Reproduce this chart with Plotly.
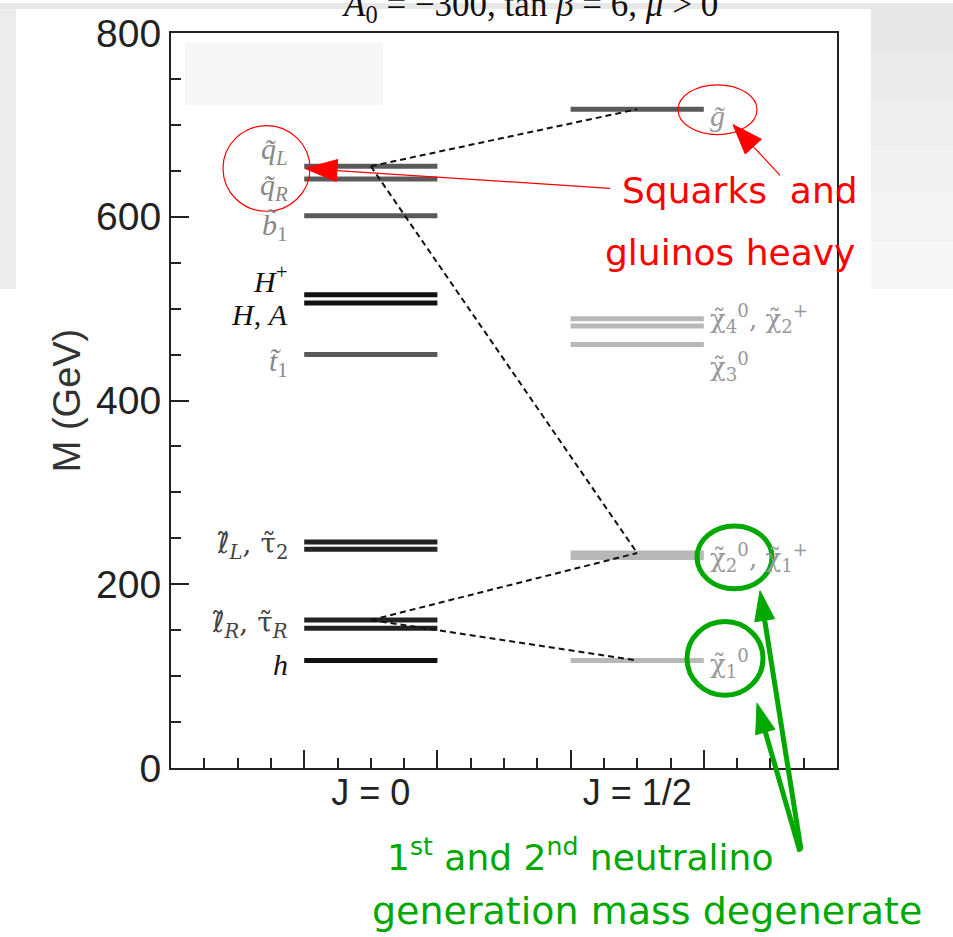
import plotly.graph_objects as go

# ---------------- data (masses in GeV) ----------------
j0_particles = ["qL", "qR", "b1", "Hp", "HA", "t1", "lL", "tau2", "lR", "tauR", "h"]
j0_mass = [655, 641, 601, 515, 506, 450, 246, 238, 161, 152, 117]
j0_group = ["sq", "sq", "sq", "higgs", "higgs", "sq", "slep", "slep", "slep", "slep", "higgs"]

j12_particles = ["gl", "N4", "C2", "N3", "N2", "C1", "N1"]
j12_mass = [717, 489, 481, 461, 234, 229, 117]
j12_group = ["gluino", "ino", "ino", "ino", "ino", "ino", "ino"]

# decay chain (dashed): pairs of particles joined
chain_from = ["qL", "qL", "lR", "lR"]
chain_to = ["gl", "N2", "N2", "N1"]

column_labels = ["J = 0", "J = 1/2"]

# ---------------- styles / layout helpers ----------------
COL = {"J0": (1.0, 2.0), "J12": (3.0, 4.0)}
STY = {
    "sq": dict(color="#5a5a5a", width=5),
    "higgs": dict(color="#111111", width=5),
    "slep": dict(color="#222222", width=5),
    "gluino": dict(color="#5a5a5a", width=5),
    "ino": dict(color="#b8b8b8", width=5),
}
L, R, T, B = 171, 116, 30, 169
W, H = 953, 937
PW, PH = W - L - R, H - T - B


def PX(x):
    return (x - L) / PW


def PY(y):
    return (H - B - y) / PH


mass = dict(zip(j0_particles + j12_particles, j0_mass + j12_mass))
side = {p: "J0" for p in j0_particles}
side.update({p: "J12" for p in j12_particles})

fig = go.Figure()

# levels
for parts, masses, groups, col in [(j0_particles, j0_mass, j0_group, "J0"),
                                    (j12_particles, j12_mass, j12_group, "J12")]:
    for p, m, g in zip(parts, masses, groups):
        x0, x1 = COL[col]
        fig.add_trace(go.Scatter(x=[x0, x1], y=[m, m], mode="lines",
                                 line=STY[g], hoverinfo="skip", showlegend=False))

# dashed decay chain
for a, b in zip(chain_from, chain_to):
    xa = sum(COL[side[a]]) / 2
    xb = sum(COL[side[b]]) / 2
    fig.add_trace(go.Scatter(x=[xa, xb], y=[mass[a], mass[b]], mode="lines",
                             line=dict(color="#111111", width=2, dash="6px,4px"),
                             hoverinfo="skip", showlegend=False))

# dummy trace for the label axis
fig.add_trace(go.Scatter(x=[1.5, 3.5], y=[0, 0], xaxis="x2", mode="markers",
                         marker=dict(opacity=0), hoverinfo="skip", showlegend=False))

# particle labels
SERIF = "Liberation Serif"
SERIF2 = "DejaVu Serif"
t = "\u0303"
chi = "χ" + t
ell = "<span style='font-family:DejaVu Sans'>ℓ" + t + "</span>"
left_labels = [
    ("<i>q" + t + "</i><sub><i>L</i></sub>", ["qL"], 15, "#888888", SERIF, 30),
    ("<i>q" + t + "</i><sub><i>R</i></sub>", ["qR"], -8, "#888888", SERIF, 30),
    ("<i>b" + t + "</i><sub>1</sub>", ["b1"], -11, "#888888", SERIF, 30),
    ("<i>H</i><sup>+</sup>", ["Hp"], 16, "#111111", SERIF, 30),
    ("<i>H</i>, <i>A</i>", ["HA"], -11, "#111111", SERIF, 30),
    ("<i>t" + t + "</i><sub>1</sub>", ["t1"], -8, "#888888", SERIF, 30),
    (ell + "<sub><i>L</i></sub>, τ" + t + "<sub>2</sub>", ["lL", "tau2"], 0, "#444444", SERIF2, 28),
    (ell + "<sub><i>R</i></sub>, τ" + t + "<sub><i>R</i></sub>", ["lR", "tauR"], 0, "#444444", SERIF2, 28),
    ("<i>h</i>", ["h"], -4, "#111111", SERIF, 30),
]
right_labels = [
    ("<i>g" + t + "</i>", ["gl"], -6, "#999999", SERIF, 30),
    (chi + "<sub>4</sub><sup>0</sup>, " + chi + "<sub>2</sub><sup>+</sup>", ["N4", "C2"], 4, "#999999", SERIF2, 26),
    (chi + "<sub>3</sub><sup>0</sup>", ["N3"], -22, "#999999", SERIF2, 26),
    (chi + "<sub>2</sub><sup>0</sup>, " + chi + "<sub>1</sub><sup>+</sup>", ["N2", "C1"], -2, "#999999", SERIF2, 26),
    (chi + "<sub>1</sub><sup>0</sup>", ["N1"], -3, "#999999", SERIF2, 26),
]
anns = []
for txt, ps, ys, c, fam, sz in left_labels:
    yv = sum(mass[p] for p in ps) / len(ps)
    anns.append(dict(x=0.89, y=yv, xref="x", yref="y", text=txt, showarrow=False,
                     xanchor="right", yanchor="middle", yshift=ys,
                     font=dict(family=fam, size=sz, color=c)))
for txt, ps, ys, c, fam, sz in right_labels:
    yv = sum(mass[p] for p in ps) / len(ps)
    anns.append(dict(x=4.03, y=yv, xref="x", yref="y", text=txt, showarrow=False,
                     xanchor="left", yanchor="middle", yshift=ys,
                     font=dict(family=fam, size=sz, color=c)))

# title (partly cut at the top, as in the slide)
anns.append(dict(x=PX(530), y=PY(27), xref="paper", yref="paper",
                 text="<i>A</i><sub>0</sub> = −300, tan <i>β</i> = 6, <i>μ</i> &gt; 0",
                 showarrow=False, xanchor="center", yanchor="bottom",
                 font=dict(family=SERIF, size=35, color="#111111")))

# commentary texts
HAND = "DejaVu Sans"
RED = "#ff0000"
GREEN = "#00a800"
anns += [
    dict(x=PX(740), y=PY(188), xref="paper", yref="paper", text="Squarks  and",
         showarrow=False, xanchor="center", yanchor="middle",
         font=dict(family=HAND, size=36, color=RED)),
    dict(x=PX(730), y=PY(250), xref="paper", yref="paper", text="gluinos heavy",
         showarrow=False, xanchor="center", yanchor="middle",
         font=dict(family=HAND, size=36, color=RED)),
    dict(x=PX(385), y=PY(855), xref="paper", yref="paper",
         text="1<sup>st</sup> and 2<sup>nd</sup> neutralino",
         showarrow=False, xanchor="left", yanchor="middle",
         font=dict(family=HAND, size=36, color=GREEN)),
    dict(x=PX(370), y=PY(912), xref="paper", yref="paper",
         text="generation mass degenerate",
         showarrow=False, xanchor="left", yanchor="middle",
         font=dict(family=HAND, size=38, color=GREEN)),
]

# ---------------- decorative shapes ----------------
shapes = []


def rect(x0, y0, x1, y1, color):
    shapes.append(dict(type="rect", xref="paper", yref="paper", x0=PX(x0), x1=PX(x1),
                       y0=PY(y1), y1=PY(y0), fillcolor=color, line=dict(width=0),
                       layer="below"))


rect(0, 0, 871, 6, "#e8e8e8")
rect(0, 6, 16, 287, "#ececec")
steps = ["#e8e8e8", "#ebebeb", "#eeeeee", "#f1f1f1", "#f4f4f4", "#f7f7f7"]
for i, c in enumerate(steps):
    rect(871, i * 48, 953, min((i + 1) * 48, 287), c)
rect(185, 40, 383, 102, "#f6f6f6")


def ellipse(x0, y0, x1, y1, color, w):
    shapes.append(dict(type="circle", xref="paper", yref="paper", x0=PX(x0), x1=PX(x1),
                       y0=PY(y1), y1=PY(y0), line=dict(color=color, width=w),
                       fillcolor="rgba(0,0,0,0)", layer="above"))


def arrow(tail, tip, color, w, hl, hw):
    tx, ty = tip
    sx, sy = tail
    dx, dy = sx - tx, sy - ty
    n = (dx * dx + dy * dy) ** 0.5
    ux, uy = dx / n, dy / n
    bx, by = tx + ux * hl, ty + uy * hl
    px_, py_ = -uy, ux
    shapes.append(dict(type="line", xref="paper", yref="paper",
                       x0=PX(sx), y0=PY(sy), x1=PX(bx), y1=PY(by),
                       line=dict(color=color, width=w), layer="above"))
    pts = [(tx, ty), (bx + px_ * hw, by + py_ * hw), (bx - px_ * hw, by - py_ * hw)]
    path = "M " + " L ".join(f"{PX(a):.5f},{PY(b):.5f}" for a, b in pts) + " Z"
    shapes.append(dict(type="path", xref="paper", yref="paper", path=path,
                       fillcolor=color, line=dict(color=color, width=1), layer="above"))


ellipse(223, 123, 310, 209, RED, 1.2)
ellipse(678, 82, 757, 132, RED, 1.2)
arrow((610, 186), (305, 166), RED, 1.2, 32, 11)
arrow((780, 173), (733, 122), RED, 1.2, 30, 11)
ellipse(697, 525, 772, 588, GREEN, 5)
ellipse(687, 621, 763, 695, GREEN, 5)
arrow((801, 850), (760, 590), GREEN, 5, 30, 10)
arrow((800, 852), (757, 703), GREEN, 5, 30, 10)

AX = "#222222"
fig.update_layout(
    width=W, height=H,
    margin=dict(l=L, r=R, t=T, b=B, pad=0),
    paper_bgcolor="white", plot_bgcolor="rgba(0,0,0,0)",
    showlegend=False,
    xaxis=dict(range=[0, 5], showline=True, linewidth=2, linecolor=AX, mirror=True,
               ticks="inside", tick0=0, dtick=1, ticklen=18, tickwidth=1.5, tickcolor=AX,
               showticklabels=False, showgrid=False, zeroline=False,
               minor=dict(ticks="inside", dtick=0.25, ticklen=10, tickwidth=1.5,
                          tickcolor=AX, showgrid=False)),
    xaxis2=dict(overlaying="x", matches="x", anchor="y", side="bottom", range=[0, 5],
                tickvals=[1.5, 3.5], ticktext=column_labels, ticks="", showline=False,
                showgrid=False, zeroline=False,
                tickfont=dict(family="Liberation Sans", size=36, color=AX)),
    yaxis=dict(range=[0, 800], showline=True, linewidth=2, linecolor=AX, mirror=True,
               ticks="inside", tick0=0, dtick=200, ticklen=18, tickwidth=1.5, tickcolor=AX,
               showgrid=False, zeroline=False,
               tickfont=dict(family="Liberation Sans", size=39, color=AX),
               title=dict(text="M (GeV)", standoff=4,
                          font=dict(family="Liberation Sans", size=38, color="#333333")),
               minor=dict(ticks="inside", dtick=50, ticklen=10, tickwidth=1.5,
                          tickcolor=AX, showgrid=False)),
    annotations=anns,
    shapes=shapes,
)

fig.write_html("out.html")
